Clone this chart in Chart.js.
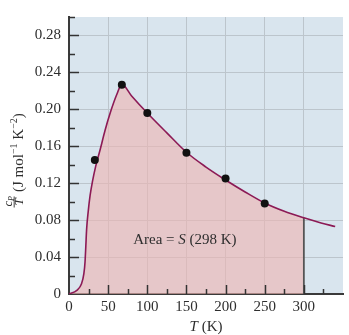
<!DOCTYPE html>
<html>
<head>
<meta charset="utf-8">
<script src="https://cdn.jsdelivr.net/npm/chart.js@4/dist/chart.umd.min.js"></script>
<style>
  html, body { margin: 0; padding: 0; background: #ffffff; }
  #wrap { width: 349px; height: 335px; }
</style>
</head>
<body>
<div id="wrap"><canvas id="cp"></canvas></div>
<script>
// Cp/T curve (temperature in K, value in J mol^-1 K^-2)
const curveT = [0, 10, 16, 19, 20.5, 21.5, 22.5, 24.5, 27, 30, 34, 40, 46, 53, 61, 67.5,
                80, 100, 125, 150, 175, 200, 225, 250, 275, 300, 322, 340];
const curveY = [0, 0.004, 0.011, 0.022, 0.035, 0.052, 0.070, 0.089, 0.107, 0.122, 0.138, 0.157, 0.177, 0.197, 0.216, 0.227,
                0.2145, 0.196, 0.1745, 0.1535, 0.1375, 0.1235, 0.1105, 0.0985, 0.0895, 0.0825, 0.077, 0.073];

// measured points
const pointT = [33, 67.5, 100, 150, 200, 250];
const pointY = [0.145, 0.2265, 0.196, 0.153, 0.125, 0.098];

// shaded integral limit
const areaLimit = 300;

const xTickLabels = [0, 50, 100, 150, 200, 250, 300];
const yTickLabels = [0, 0.04, 0.08, 0.12, 0.16, 0.20, 0.24, 0.28];

const SERIF = "'Liberation Serif', 'DejaVu Serif', serif";
const TEXT = '#2e2e2e';

const curvePts = curveT.map((t, i) => ({ x: t, y: curveY[i] }));
const areaPts  = curvePts.filter(p => p.x <= areaLimit);
const limitY   = curveY[curveT.indexOf(areaLimit)];

const isMajorY = v => yTickLabels.some(l => Math.abs(l - v) < 1e-6);
const isMajorX = v => xTickLabels.includes(Math.round(v));

// blue plot background
const background = {
  id: 'background',
  beforeDraw(chart) {
    const { ctx, chartArea: a } = chart;
    ctx.save();
    ctx.fillStyle = '#d9e5ee';
    ctx.fillRect(a.left, a.top, a.right - a.left, a.bottom - a.top);
    ctx.restore();
  }
};

// inward tick marks + titles + annotation
const decorations = {
  id: 'decorations',
  afterDraw(chart) {
    const { ctx, chartArea: a, scales } = chart;
    ctx.save();
    ctx.strokeStyle = '#333';
    ctx.lineWidth = 1.5;

    scales.y.ticks.forEach(t => {
      if (t.value <= 0) return;
      const py = Math.round(scales.y.getPixelForValue(t.value)) + 0.5;
      const len = isMajorY(t.value) ? 10 : 6;
      ctx.beginPath();
      ctx.moveTo(a.left, py);
      ctx.lineTo(a.left + len, py);
      ctx.stroke();
    });
    scales.x.ticks.forEach(t => {
      if (t.value <= 0 || t.value >= scales.x.max) return;
      const px = Math.round(scales.x.getPixelForValue(t.value)) + 0.5;
      const len = isMajorX(t.value) ? 9 : 5;
      ctx.beginPath();
      ctx.moveTo(px, a.bottom);
      ctx.lineTo(px, a.bottom - len);
      ctx.stroke();
    });

    ctx.fillStyle = TEXT;
    ctx.textBaseline = 'alphabetic';

    // x axis title: T (K)
    const xt1 = 'T', xt2 = ' (K)';
    ctx.font = 'italic 15px ' + SERIF;
    const w1 = ctx.measureText(xt1).width;
    ctx.font = '15px ' + SERIF;
    const w2 = ctx.measureText(xt2).width;
    const x0 = (a.left + a.right) / 2 - (w1 + w2) / 2;
    const by = a.bottom + 37;
    ctx.font = 'italic 15px ' + SERIF;
    ctx.fillText(xt1, x0, by);
    ctx.font = '15px ' + SERIF;
    ctx.fillText(xt2, x0 + w1, by);

    // area annotation
    const ax = scales.x.getPixelForValue(148);
    const ay = scales.y.getPixelForValue(0.054);
    const parts = [['Area = ', ''], ['S', 'italic '], [' (298 K)', '']];
    let total = 0;
    parts.forEach(p => { ctx.font = p[1] + '15px ' + SERIF; total += ctx.measureText(p[0]).width; });
    let cx = ax - total / 2;
    parts.forEach(p => {
      ctx.font = p[1] + '15px ' + SERIF;
      ctx.fillText(p[0], cx, ay);
      cx += ctx.measureText(p[0]).width;
    });

    // y axis title: cP/T (J mol-1 K-2), rotated
    ctx.translate(23, 202);
    ctx.rotate(-Math.PI / 2);
    ctx.textAlign = 'center';
    ctx.font = 'italic 13px ' + SERIF;
    ctx.fillText('T', 0, 0);
    ctx.fillText('c', -1.5, -11);
    ctx.font = 'italic 8px ' + SERIF;
    ctx.fillText('P', 3.5, -9.5);
    ctx.fillRect(-5.5, -9.3, 11, 0.9);
    ctx.textAlign = 'left';
    let tx = 10;
    const seg = (s, size, dy) => {
      ctx.font = size + 'px ' + SERIF;
      ctx.fillText(s, tx, dy);
      tx += ctx.measureText(s).width;
    };
    seg('(J mol', 15, 0);
    seg('\u22121', 10, -6);
    seg(' K', 15, 0);
    seg('\u22122', 10, -6);
    seg(')', 15, 0);
    ctx.restore();
  }
};

new Chart(document.getElementById('cp'), {
  type: 'line',
  data: {
    datasets: [
      {
        label: 'measured',
        data: pointT.map((t, i) => ({ x: t, y: pointY[i] })),
        showLine: false,
        pointRadius: 4,
        pointBackgroundColor: '#111',
        pointBorderWidth: 0
      },
      {
        label: 'curve',
        data: curvePts,
        borderColor: '#8c1a55',
        borderWidth: 1.6,
        pointRadius: 0,
        cubicInterpolationMode: 'monotone',
        fill: false
      },
      {
        label: 'limit',
        data: [{ x: areaLimit, y: 0 }, { x: areaLimit, y: limitY }],
        borderColor: '#555',
        borderWidth: 1.8,
        pointRadius: 0,
        fill: false
      },
      {
        label: 'area',
        data: areaPts,
        borderWidth: 0,
        borderColor: 'transparent',
        backgroundColor: 'rgba(238,180,177,0.62)',
        pointRadius: 0,
        cubicInterpolationMode: 'monotone',
        fill: 'origin'
      }
    ]
  },
  options: {
    responsive: true,
    maintainAspectRatio: false,
    animation: false,
    devicePixelRatio: 1,
    layout: { padding: { top: 6, right: 6, left: 0, bottom: 0 } },
    plugins: {
      legend: { display: false },
      tooltip: { enabled: false }
    },
    scales: {
      x: {
        type: 'linear',
        min: 0,
        max: 350,
        afterFit: s => { s.height = 41; },
        border: { display: true, color: '#3a3a3a', width: 2 },
        grid: {
          drawTicks: false,
          color: c => (c.tick && isMajorX(c.tick.value) && c.tick.value > 0) ? '#bcc5cc' : 'transparent',
          lineWidth: 1
        },
        ticks: {
          stepSize: 25,
          padding: 4,
          color: TEXT,
          font: { family: SERIF, size: 15 },
          maxRotation: 0,
          autoSkip: false,
          callback: v => xTickLabels.includes(v) ? String(v) : ''
        }
      },
      y: {
        type: 'linear',
        min: 0,
        max: 0.30,
        afterFit: s => { s.width = 69; },
        border: { display: true, color: '#3a3a3a', width: 2 },
        grid: {
          drawTicks: false,
          color: c => (c.tick && isMajorY(c.tick.value) && c.tick.value > 0) ? '#bcc5cc' : 'transparent',
          lineWidth: 1
        },
        ticks: {
          stepSize: 0.02,
          padding: 8,
          color: TEXT,
          font: { family: SERIF, size: 15 },
          autoSkip: false,
          callback: v => {
            if (!isMajorY(v)) return '';
            return Math.abs(v) < 1e-9 ? '0' : v.toFixed(2);
          }
        }
      }
    }
  },
  plugins: [background, decorations]
});
</script>
</body>
</html>
